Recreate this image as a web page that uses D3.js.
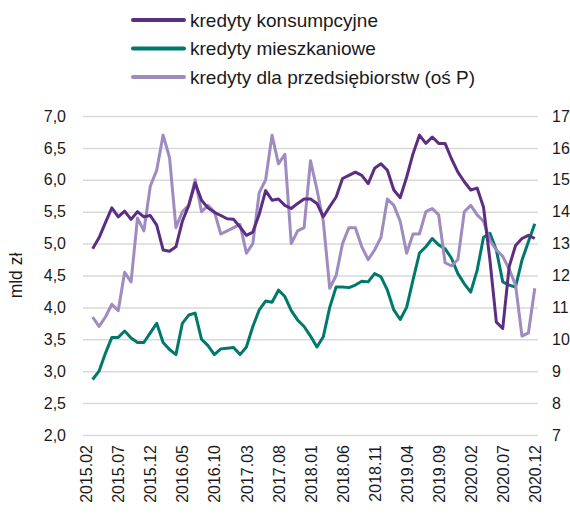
<!DOCTYPE html>
<html>
<head>
<meta charset="utf-8">
<script src="https://cdn.jsdelivr.net/npm/d3@7"></script>
<style>
  body { margin: 0; background: #fff; }
  text { font-family: "Liberation Sans", Arial, sans-serif; fill: #1a1a1a; }
</style>
</head>
<body>
<div id="chart"></div>
<script>
// miesiące 2015.02 - 2020.12 (pierwszy miesiąc bez danych)
const months = [];
for (let y = 2015; y <= 2020; y++) {
  for (let m = 1; m <= 12; m++) {
    if (y === 2015 && m < 2) continue;
    months.push(`${y}.${String(m).padStart(2, '0')}`);
  }
}

const tickLabels = ['2015.02', '2015.07', '2015.12', '2016.05', '2016.10', '2017.03', '2017.08',
  '2018.01', '2018.06', '2018.11', '2019.04', '2019.09', '2020.02', '2020.07', '2020.12'];

// mld zł, oś lewa
const konsumpcyjne = [null,
  4.92, 5.09, 5.33, 5.56, 5.42, 5.51, 5.38, 5.50, 5.42, 5.44, 5.29, 4.90,
  4.88, 4.95, 5.35, 5.60, 5.95, 5.68, 5.56, 5.49, 5.44, 5.39, 5.38, 5.26,
  5.13, 5.18, 5.46, 5.83, 5.68, 5.70, 5.60, 5.55, 5.63, 5.70, 5.70, 5.63,
  5.42, 5.58, 5.73, 6.02, 6.07, 6.12, 6.07, 5.94, 6.18, 6.25, 6.15, 5.84,
  5.72, 6.04, 6.41, 6.70, 6.57, 6.67, 6.57, 6.57, 6.33, 6.12, 5.97, 5.84,
  5.87, 5.57, 4.74, 3.77, 3.67, 4.64, 4.97, 5.08, 5.13, 5.08];

const mieszkaniowe = [null,
  2.87, 3.00, 3.28, 3.53, 3.53, 3.63, 3.52, 3.45, 3.45, 3.60, 3.75, 3.45,
  3.34, 3.26, 3.75, 3.88, 3.91, 3.50, 3.40, 3.26, 3.35, 3.36, 3.37, 3.26,
  3.38, 3.70, 3.96, 4.10, 4.08, 4.27, 4.17, 3.95, 3.80, 3.70, 3.55, 3.38,
  3.54, 4.00, 4.32, 4.32, 4.31, 4.35, 4.41, 4.40, 4.53, 4.48, 4.27, 3.96,
  3.81, 4.00, 4.43, 4.85, 4.95, 5.08, 4.98, 4.92, 4.77, 4.53, 4.37, 4.24,
  4.58, 5.10, 5.16, 4.90, 4.40, 4.35, 4.32, 4.74, 5.03, 5.31];

// mld zł, oś prawa
const przedsiebiorstwa = [null,
  10.7, 10.4, 10.7, 11.1, 10.9, 12.1, 11.8, 13.8, 13.4, 14.8, 15.3, 16.4,
  15.7, 13.5, 14.0, 14.2, 15.0, 14.0, 14.2, 14.0, 13.3, 13.4, 13.5, 13.6,
  12.7, 13.0, 14.6, 15.0, 16.4, 15.5, 15.8, 13.0, 13.4, 13.5, 15.6, 14.7,
  13.7, 11.6, 12.0, 13.0, 13.5, 13.5, 12.9, 12.5, 12.8, 13.2, 14.4, 14.2,
  13.7, 12.7, 13.3, 13.3, 14.0, 14.1, 13.9, 12.4, 12.3, 12.5, 14.0, 14.2,
  13.9, 13.7, 13.1, 12.8, 12.6, 12.2, 11.7, 10.1, 10.2, 11.6];

const seriesNames = ['kredyty konsumpcyjne', 'kredyty mieszkaniowe', 'kredyty dla przedsiębiorstw (oś P)'];
const colors = ['#5b2e82', '#00796b', '#9e8bc0'];

const width = 570, height = 516;
const plot = { left: 83, right: 538, top: 116, bottom: 435 };

const svg = d3.select('#chart').append('svg')
  .attr('width', width)
  .attr('height', height);

const x = d3.scalePoint()
  .domain(months)
  .range([plot.left, plot.right])
  .padding(0.5);

const yL = d3.scaleLinear().domain([2, 7]).range([plot.bottom, plot.top]);
const yR = d3.scaleLinear().domain([7, 17]).range([plot.bottom, plot.top]);

// siatka + oś lewa
const fmt = d => d3.format('.1f')(d).replace('.', ',');
const gLeft = svg.append('g')
  .attr('transform', `translate(${plot.left},0)`)
  .call(d3.axisLeft(yL).tickValues(d3.range(2, 7.01, 0.5)).tickFormat(fmt)
    .tickSize(-(plot.right - plot.left)).tickPadding(17));
gLeft.select('.domain').remove();
gLeft.selectAll('.tick line').attr('stroke', '#d9d9d9').attr('stroke-width', 1.5);
gLeft.selectAll('.tick text').attr('font-size', 16).attr('fill', '#1a1a1a');

const gRight = svg.append('g')
  .attr('transform', `translate(${plot.right},0)`)
  .call(d3.axisRight(yR).tickValues(d3.range(7, 17.01, 1)).tickSize(0).tickPadding(14));
gRight.select('.domain').remove();
gRight.selectAll('.tick text').attr('font-size', 16).attr('fill', '#1a1a1a');

// oś X
const gX = svg.append('g')
  .attr('transform', `translate(0,${plot.bottom})`)
  .call(d3.axisBottom(x).tickValues(tickLabels).tickSize(0).tickPadding(0));
gX.select('.domain').remove();
gX.selectAll('.tick text')
  .attr('font-size', 16)
  .attr('fill', '#1a1a1a')
  .attr('text-anchor', 'end')
  .attr('dy', '0.35em')
  .attr('transform', 'translate(0,10) rotate(-90)')
  .attr('x', 0).attr('y', 0);

// tytuł osi
svg.append('text')
  .attr('transform', `translate(22,${(plot.top + plot.bottom) / 2}) rotate(-90)`)
  .attr('text-anchor', 'middle')
  .attr('font-size', 17.5)
  .text('mld zł');

// linie
const lineL = d3.line()
  .defined(d => d.v != null)
  .x(d => x(d.m))
  .y(d => yL(d.v));
const lineR = d3.line()
  .defined(d => d.v != null)
  .x(d => x(d.m))
  .y(d => yR(d.v));

const toPts = arr => arr.map((v, i) => ({ m: months[i], v }));

const lines = [
  { data: toPts(mieszkaniowe), gen: lineL, color: colors[1] },
  { data: toPts(przedsiebiorstwa), gen: lineR, color: colors[2] },
  { data: toPts(konsumpcyjne), gen: lineL, color: colors[0] }
];

svg.append('g').selectAll('path')
  .data(lines)
  .join('path')
  .attr('d', d => d.gen(d.data))
  .attr('fill', 'none')
  .attr('stroke', d => d.color)
  .attr('stroke-width', 3)
  .attr('stroke-linejoin', 'round');

// legenda
const legend = svg.append('g').attr('transform', 'translate(133,20)');
const items = legend.selectAll('g')
  .data(seriesNames)
  .join('g')
  .attr('transform', (d, i) => `translate(0,${i * 28.5})`);
items.append('line')
  .attr('x1', 0).attr('x2', 51)
  .attr('stroke', (d, i) => colors[i])
  .attr('stroke-width', 4)
  .attr('stroke-linecap', 'round');
items.append('text')
  .attr('x', 57)
  .attr('dy', '0.35em')
  .attr('font-size', 19)
  .text(d => d);
</script>
</body>
</html>
